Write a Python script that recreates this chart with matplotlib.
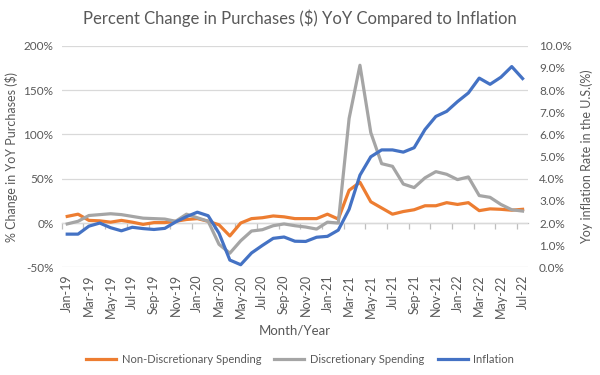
import numpy as np
import matplotlib
matplotlib.use("Agg")
import matplotlib.pyplot as plt

plt.rcParams['font.family'] = ['Lato', 'DejaVu Sans']

months = ['Jan-19', 'Feb-19', 'Mar-19', 'Apr-19', 'May-19', 'Jun-19', 'Jul-19', 'Aug-19',
          'Sep-19', 'Oct-19', 'Nov-19', 'Dec-19', 'Jan-20', 'Feb-20', 'Mar-20', 'Apr-20',
          'May-20', 'Jun-20', 'Jul-20', 'Aug-20', 'Sep-20', 'Oct-20', 'Nov-20', 'Dec-20',
          'Jan-21', 'Feb-21', 'Mar-21', 'Apr-21', 'May-21', 'Jun-21', 'Jul-21', 'Aug-21',
          'Sep-21', 'Oct-21', 'Nov-21', 'Dec-21', 'Jan-22', 'Feb-22', 'Mar-22', 'Apr-22',
          'May-22', 'Jun-22', 'Jul-22']

# % change YoY in purchases
non_discretionary = [7.5, 10, 3, 2.5, 1, 3, 1, -1.5, 0.5, 0.5, 2, 4, 5, 2, -2, -14.5,
                     0, 5, 6, 8, 7, 5, 5, 5, 10, 4.5, 37, 46, 24, 17, 10, 13,
                     15, 19.5, 19.5, 23, 21, 23, 14, 16, 15.5, 14.5, 15.5]
discretionary = [-1, 2, 8.5, 9.5, 10.5, 9.5, 7.5, 5.5, 5, 4.5, 2, 10, 6, 2, -24, -34,
                 -20, -9, -7.5, -3, -1, -3, -4.5, -6.8, 1, 0, 118, 178, 102, 67, 64, 44,
                 40, 51, 58, 55, 49, 52, 31, 29, 21, 15, 13.5]
# yoy inflation rate (%)
inflation = [1.5, 1.5, 1.86, 2.0, 1.79, 1.65, 1.81, 1.75, 1.71, 1.76, 2.05, 2.29, 2.49, 2.33,
             1.54, 0.33, 0.12, 0.65, 0.99, 1.31, 1.37, 1.18, 1.17, 1.36, 1.40, 1.68, 2.62,
             4.16, 4.99, 5.3, 5.3, 5.2, 5.4, 6.22, 6.81, 7.04, 7.48, 7.87, 8.54, 8.26, 8.58,
             9.06, 8.52]

ORANGE = '#ED7D31'
GRAY = '#A5A5A5'
BLUE = '#4472C4'
TXT = '#595959'

x = np.arange(len(months))

fig = plt.figure(figsize=(6, 3.75), dpi=100)
ax1 = fig.add_axes([0.103, 0.287, 0.777, 0.591])
ax2 = ax1.twinx()

l1, = ax1.plot(x, non_discretionary, color=ORANGE, lw=2.3, solid_joinstyle='round')
l2, = ax1.plot(x, discretionary, color=GRAY, lw=2.3, solid_joinstyle='round')
l3, = ax2.plot(x, inflation, color=BLUE, lw=2.3, solid_joinstyle='round')

ax1.set_xlim(-0.5, len(months) - 0.5)
ax1.set_ylim(-50, 200)
ax2.set_ylim(0, 10)

ax1.set_yticks(np.arange(-50, 201, 50))
ax1.set_yticklabels([f'{v}%' for v in range(-50, 201, 50)])
ax2.set_yticks(np.arange(0, 11, 1))
ax2.set_yticklabels([f'{v:.1f}%' for v in range(0, 11)])

ax1.set_xticks(x[::2])
ax1.set_xticklabels(months[::2], rotation=90)

ax1.grid(axis='y', color='#d9d9d9', lw=0.9)
ax1.set_axisbelow(True)
for ax in (ax1, ax2):
    for s in ax.spines.values():
        s.set_visible(False)
    ax.tick_params(length=0, labelsize=8.5, colors=TXT)
ax1.tick_params(axis='y', pad=6)
ax2.tick_params(axis='y', pad=8)
ax1.tick_params(axis='x', pad=5, labelsize=9)

# category axis line at 0% with tick marks between every 2 months
sec = ax1.secondary_xaxis(0.2)
sec.set_xticks(np.arange(-0.5, len(months), 2))
sec.set_xticklabels([])
sec.tick_params(direction='out', length=4, color='#bfbfbf', width=0.9)
sec.spines['bottom'].set_color('#bfbfbf')
sec.spines['bottom'].set_linewidth(0.9)

ax1.set_ylabel('% Change in YoY Purchases ($)', fontsize=9, color=TXT, labelpad=4)
ax2.set_ylabel('Yoy inflation Rate in the U.S.(%)', fontsize=9, color=TXT, labelpad=6)
ax1.set_xlabel('Month/Year', fontsize=9.5, color=TXT, labelpad=5)

fig.suptitle('Percent Change in Purchases ($) YoY Compared to Inflation',
             fontsize=12, color=TXT, y=0.975)

fig.legend([l1, l2, l3], ['Non-Discretionary Spending', 'Discretionary Spending', 'Inflation'],
           loc='lower center', bbox_to_anchor=(0.5, 0.0), ncol=3, frameon=False,
           fontsize=8, labelcolor=TXT, handlelength=2.7, handletextpad=0.5,
           columnspacing=1.2)

fig.savefig('out.png', dpi=100)
